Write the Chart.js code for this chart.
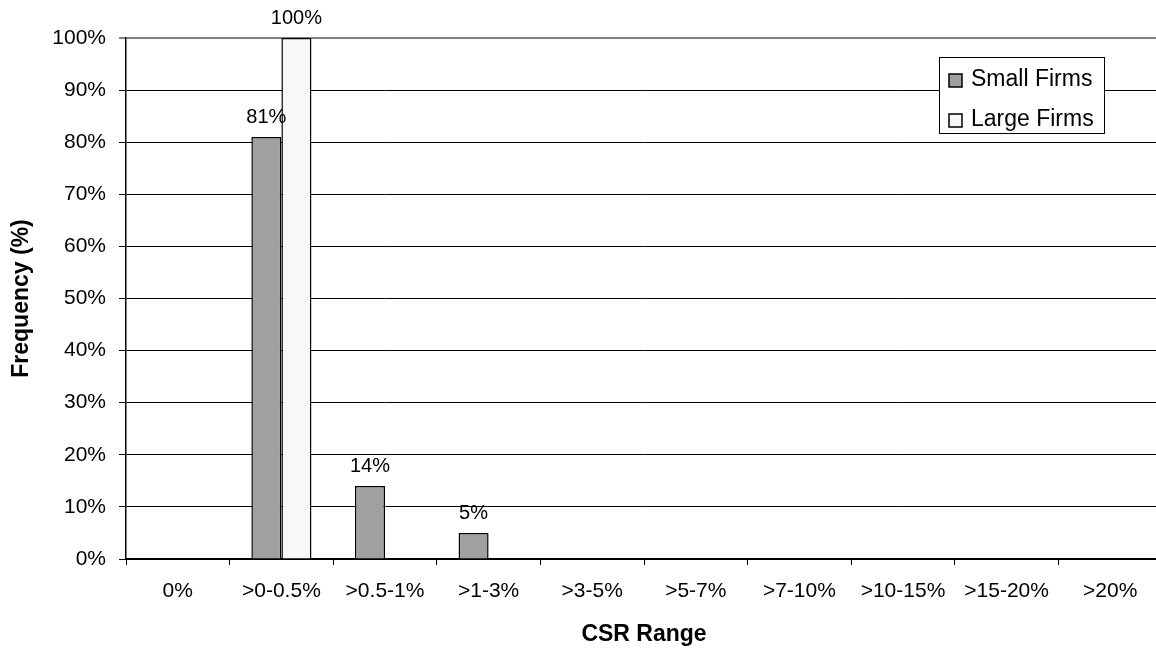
<!DOCTYPE html>
<html>
<head>
<meta charset="utf-8">
<script src="https://cdn.jsdelivr.net/npm/chart.js@4.4.1/dist/chart.umd.min.js"></script>
<style>
  html, body { margin: 0; padding: 0; background: #fff; overflow: hidden; }
  #wrap { width: 1170px; height: 652px; }
</style>
</head>
<body>
<div id="wrap"><canvas id="c" width="1170" height="652"></canvas></div>
<script>
const categories = ['0%', '>0-0.5%', '>0.5-1%', '>1-3%', '>3-5%', '>5-7%', '>7-10%', '>10-15%', '>15-20%', '>20%'];
const smallFirms = [0, 81, 14, 5, 0, 0, 0, 0, 0, 0];
const largeFirms = [0, 100, 0, 0, 0, 0, 0, 0, 0, 0];
const seriesNames = ['Small Firms', 'Large Firms'];
const yTicks = [0, 10, 20, 30, 40, 50, 60, 70, 80, 90, 100];

const FONT = '"Liberation Sans", Arial, sans-serif';

const labelPlugin = {
  id: 'barLabels',
  afterDatasetsDraw(chart) {
    const ctx = chart.ctx;
    ctx.save();
    ctx.font = '20px ' + FONT;
    ctx.fillStyle = '#000';
    ctx.textAlign = 'center';
    ctx.textBaseline = 'alphabetic';
    chart.data.datasets.forEach((ds, di) => {
      const meta = chart.getDatasetMeta(di);
      meta.data.forEach((bar, i) => {
        const v = ds.data[i];
        if (v > 0) ctx.fillText(v + '%', bar.x, bar.y - 14);
      });
    });
    ctx.restore();
  }
};

const legendPlugin = {
  id: 'boxLegend',
  afterDraw(chart) {
    const ctx = chart.ctx;
    const x0 = 939, y0 = 57, w = 165, h = 76;
    ctx.save();
    ctx.fillStyle = '#fff';
    ctx.fillRect(x0, y0, w, h);
    ctx.strokeStyle = '#000';
    ctx.lineWidth = 1;
    ctx.strokeRect(x0 + 0.5, y0 + 0.5, w, h);
    ctx.font = '23px ' + FONT;
    ctx.textAlign = 'left';
    ctx.textBaseline = 'alphabetic';
    chart.data.datasets.forEach((ds, i) => {
      const base = y0 + 29 + i * 40;
      ctx.fillStyle = ds.backgroundColor;
      ctx.fillRect(x0 + 10, base - 12, 13, 13);
      ctx.lineWidth = 1.5;
      ctx.strokeStyle = '#000';
      ctx.strokeRect(x0 + 10, base - 12, 13, 13);
      ctx.fillStyle = '#000';
      ctx.fillText(ds.label, x0 + 32, base);
    });
    ctx.restore();
  }
};

new Chart(document.getElementById('c'), {
  type: 'bar',
  data: {
    labels: categories,
    datasets: [
      { label: seriesNames[0], data: smallFirms, backgroundColor: '#a0a0a0', borderColor: '#000', borderWidth: 1.5, categoryPercentage: 0.58, barPercentage: 1.0 },
      { label: seriesNames[1], data: largeFirms, backgroundColor: '#f8f8f8', borderColor: '#000', borderWidth: 1.5, categoryPercentage: 0.58, barPercentage: 1.0 }
    ]
  },
  options: {
    responsive: false,
    animation: false,
    devicePixelRatio: 1,
    layout: { padding: { left: 0, right: 8, top: 38, bottom: 0 } },
    plugins: { legend: { display: false }, tooltip: { enabled: false } },
    scales: {
      x: {
        grid: { offset: true, drawOnChartArea: false, drawTicks: true, tickLength: 6, color: '#000', lineWidth: 1 },
        border: { display: true, color: '#000', width: 2 },
        ticks: { color: '#000', font: { family: FONT, size: 21 }, padding: 14, maxRotation: 0, autoSkip: false },
        title: { display: true, text: 'CSR Range', color: '#000', font: { family: FONT, size: 23, weight: 'bold' }, padding: { top: 0, bottom: 4 } },
        afterFit(scale) { scale.height = 93; }
      },
      y: {
        min: 0, max: 100,
        afterBuildTicks(scale) { scale.ticks = yTicks.map(v => ({ value: v })); },
        grid: {
          color: ctx => (ctx.tick && ctx.tick.value === 100) ? '#808080' : '#000',
          lineWidth: ctx => (ctx.tick && ctx.tick.value === 100) ? 2 : 1,
          tickLength: 7, drawTicks: true
        },
        border: { display: true, color: '#000', width: 1.5 },
        ticks: { color: '#000', font: { family: FONT, size: 21 }, padding: 13, callback: v => v + '%' },
        title: { display: true, text: 'Frequency (%)', color: '#000', font: { family: FONT, size: 23, weight: 'bold' }, padding: { top: 8, bottom: 0 } },
        afterFit(scale) { scale.width = 126; }
      }
    }
  },
  plugins: [labelPlugin, legendPlugin]
});
</script>
</body>
</html>
